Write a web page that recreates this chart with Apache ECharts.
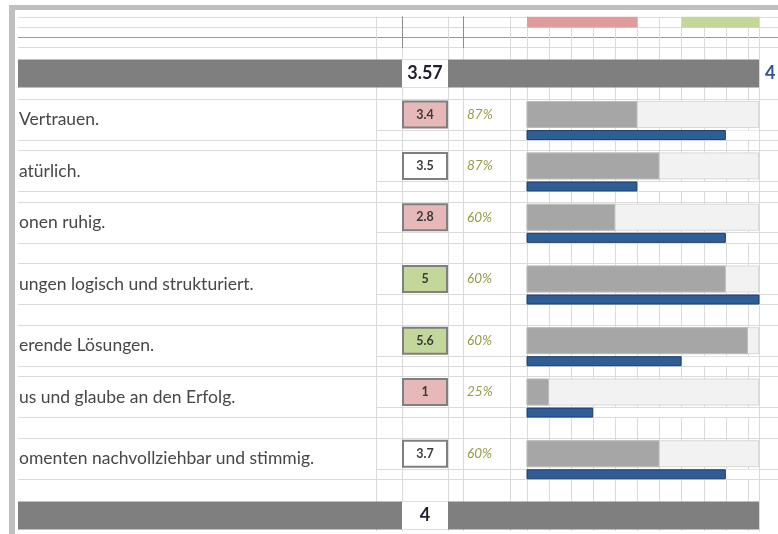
<!DOCTYPE html>
<html><head><meta charset="utf-8">
<script src="https://cdn.jsdelivr.net/npm/echarts@6/dist/echarts.min.js"></script>
<style>html,body{margin:0;padding:0;background:#fff}#c{width:778px;height:534px}</style>
</head><body><div id="c"></div>
<script>
// ---------------- data ----------------
const statements = ['Vertrauen.', 'atürlich.', 'onen ruhig.', 'ungen logisch und strukturiert.', 'erende Lösungen.', 'us und glaube an den Erfolg.', 'omenten nachvollziehbar und stimmig.'];
const scores = [3.4, 3.5, 2.8, 5, 5.6, 1, 3.7];
const shares = [87, 87, 60, 60, 60, 25, 60];
const grayBars = [3, 3.5, 2.5, 5, 5.5, 1, 3.5];
const blueBars = [5, 3, 5, 6, 4, 2, 5];
const totals = ['3.57', '4'];
const sideTotal = '4';
const redBelow = 3.5, greenFrom = 4.5;
const legendRedTo = 3, legendGreenFrom = 4;
const scaleMin = 0.5, scaleMax = 5.75, scaleStep = 0.5;

// ---------------- spreadsheet row layout ----------------
const gapRows = [1, 1, 2, 2, 1, 2, 2];
const rows = [];
for (let i = 0; i < 4; i++) rows.push({kind: 'head', k: i});
for (let i = 0; i < 3; i++) rows.push({kind: 'band', total: i === 1 ? 0 : -1});
rows.push({kind: 'pad'});
statements.forEach((s, i) => {
  rows.push({kind: 'boxTop'}); rows.push({kind: 'box', item: i}); rows.push({kind: 'boxEnd'}); rows.push({kind: 'blue', item: i});
  for (let g = 0; g < gapRows[i]; g++) rows.push({kind: g === 0 ? 'gap' : 'gap2'});
});
for (let i = 0; i < 3; i++) rows.push({kind: 'band', total: i === 1 ? 1 : -1});
const slots = rows.map((r, i) => String(i));

const TOP = 16.85, H = 513.95, U = H / rows.length;
const LIGHT = '#dadada', DARK = '#9a9a9a';
const FONT = 'Lato, "Open Sans", sans-serif';

const textLine = r => r.kind === 'head' || r.kind === 'boxTop' || r.kind === 'gap';
const rightLine = r => textLine(r) || r.kind === 'blue';
function lineIntervals(pred) { return (idx) => pred(rows[idx]); }
function lineColors(pred) {
  const c = [];
  rows.forEach((r, i) => { if (pred(r)) c.push(r.kind === 'head' && r.k === 2 ? DARK : LIGHT); });
  c.push('rgba(0,0,0,0)');
  return c;
}
function slotOf(kind, i) { return rows.findIndex(r => r.kind === kind && r.item === i); }
function onSlots(kind, values) { const a = slots.map(() => '-'); values.forEach((v, i) => { a[slotOf(kind, i)] = v; }); return a; }
function onBands(values) { const a = slots.map(() => '-'); rows.forEach((r, i) => { if (r.kind === 'band' && r.total >= 0) a[i] = values[r.total]; }); return a; }

const grids = [], xAxes = [], yAxes = [];
function addGrid(left, width, top, height) {
  grids.push({left: left, width: width, top: top === undefined ? TOP : top, height: height === undefined ? H : height, containLabel: false, outerBoundsMode: 'none'});
  return grids.length - 1;
}
function addX(gi, extra) { xAxes.push(Object.assign({type: 'value', gridIndex: gi, min: 0, max: 1, show: false}, extra || {})); return xAxes.length - 1; }
function addY(gi, extra) {
  yAxes.push(Object.assign({type: 'category', gridIndex: gi, data: slots, inverse: true, show: false,
    axisTick: {show: false}, axisLabel: {show: false}, axisLine: {show: false}, splitLine: {show: false}}, extra || {}));
  return yAxes.length - 1;
}
const vline = {show: true, lineStyle: {color: LIGHT, width: 1}};

// text column
const gText = addGrid(18, 358); const xText = addX(gText);
addY(gText, {show: true, splitLine: {show: true, interval: lineIntervals(textLine), lineStyle: {color: lineColors(textLine), width: 1}},
  axisLabel: {show: true, inside: true, margin: 1, interval: 0,
    formatter: (v, idx) => rows[idx].kind === 'box' ? '{t|' + statements[rows[idx].item] + '}' : '',
    rich: {t: {color: '#474747', fontSize: 17.5, fontFamily: FONT, padding: [10, 0, 0, 0]}}}});
// right region horizontal lines
const gRight = addGrid(376, 402); addX(gRight);
addY(gRight, {show: true, axisLine: vline, splitLine: {show: true, interval: lineIntervals(rightLine), lineStyle: {color: lineColors(rightLine), width: 1}}});
// value box column
const gBox = addGrid(402, 46); const xBox = addX(gBox);
const yBox = addY(gBox, {show: true, axisLine: vline});
const ySum = addY(gBox);
// narrow column
const gN1 = addGrid(448, 15); addX(gN1); addY(gN1, {show: true, axisLine: vline});
// percentage column
const gPct = addGrid(463, 47); addX(gPct);
addY(gPct, {show: true, axisLine: vline, axisLabel: {show: true, inside: true, margin: 4, interval: 0, color: '#979a45', fontSize: 13.5, fontStyle: 'italic', fontFamily: FONT,
  formatter: (v, idx) => rows[idx].kind === 'box' ? shares[rows[idx].item] + '%' : ''}});
// narrow column 2
const gN2 = addGrid(510, 17); addX(gN2); addY(gN2, {show: true, axisLine: vline});
// bar area
const gBars = addGrid(527, 232);
const xBars = addX(gBars, {min: scaleMin, max: scaleMax, interval: scaleStep, show: true, axisLabel: {show: false}, axisTick: {show: false}, axisLine: {show: false},
  splitLine: {show: true, lineStyle: {color: LIGHT, width: 1}}});
const yBg = addY(gBars), yGray = addY(gBars), yCover = addY(gBars), yBlue = addY(gBars), yLegend = addY(gBars);
// right edge
const gEdge = addGrid(759, 19); addX(gEdge);
addY(gEdge, {show: true, axisLine: vline, axisLabel: {show: true, inside: true, margin: 6, interval: 0, color: '#2f5597', fontSize: 18, fontWeight: 'bold', fontFamily: FONT,
  formatter: (v, idx) => (rows[idx].kind === 'band' && rows[idx].total === 0) ? sideTotal : ''}});
// full width for summary bands
const gFull = addGrid(18, 741); const xFull = addX(gFull); const yFull = addY(gFull);
// header dark column lines
const gHead = addGrid(402, 61, TOP, 3 * U); addX(gHead);
const darkLine = {show: true, lineStyle: {color: '#8c8c8c', width: 1}};
addY(gHead, {show: true, data: ['0', '1', '2'], position: 'left', axisLine: darkLine});
addY(gHead, {show: true, data: ['0', '1', '2'], position: 'right', axisLine: darkLine});

const base = {type: 'bar', silent: true, animation: false};
const all = v => statements.map(() => v);
const legendSlot = v => slots.map((s, i) => i === 0 ? v : '-');

const series = [
  Object.assign({}, base, {name: 'band', xAxisIndex: xFull, yAxisIndex: yFull, barWidth: 28, z: 3, clip: false,
    data: onBands([1, 1]), itemStyle: {color: '#7f7f7f'}}),
  Object.assign({}, base, {name: 'summary', xAxisIndex: xBox, yAxisIndex: ySum, barWidth: 28, z: 5, clip: false,
    data: onBands(totals.map(() => 1)), itemStyle: {color: '#ffffff'},
    label: {show: true, position: 'inside', color: '#1f1f2f', fontSize: 18, fontWeight: 'bold', fontFamily: FONT,
      formatter: p => totals[rows[p.dataIndex].total]}}),
  Object.assign({}, base, {name: 'score', xAxisIndex: xBox, yAxisIndex: yBox, barWidth: 28,
    data: onSlots('box', scores.map(s => ({value: 1, itemStyle: {color: s < redBelow ? '#e6b9b8' : (s >= greenFrom ? '#c4d79b' : '#ffffff')}}))),
    itemStyle: {borderColor: '#7f7f7f', borderWidth: 2},
    label: {show: true, position: 'inside', color: '#3a3a3a', fontSize: 12.5, fontWeight: 'bold', fontFamily: FONT,
      formatter: p => String(scores[rows[p.dataIndex].item])}}),
  Object.assign({}, base, {name: 'bg', xAxisIndex: xBars, yAxisIndex: yBg, barWidth: 27,
    data: onSlots('box', all(scaleMax)), itemStyle: {color: '#f2f2f2', borderColor: '#d9d9d9', borderWidth: 1}}),
  Object.assign({}, base, {name: 'gray', xAxisIndex: xBars, yAxisIndex: yGray, barWidth: 27,
    data: onSlots('box', grayBars), itemStyle: {color: '#a6a6a6', borderColor: '#bcbcbc', borderWidth: 1}}),
  Object.assign({}, base, {name: 'cover', xAxisIndex: xBars, yAxisIndex: yCover, barWidth: 9,
    data: onSlots('blue', all(scaleMax)), itemStyle: {color: '#ffffff'}}),
  Object.assign({}, base, {name: 'blue', xAxisIndex: xBars, yAxisIndex: yBlue, barWidth: 10,
    data: onSlots('blue', blueBars), itemStyle: {color: '#2f5d95', borderColor: '#1d3d6b', borderWidth: 1}}),
  Object.assign({}, base, {name: 'legRed', xAxisIndex: xBars, yAxisIndex: yLegend, barWidth: 11, stack: 'leg',
    data: legendSlot(legendRedTo), itemStyle: {color: '#e09b9b'}}),
  Object.assign({}, base, {name: 'legGap', xAxisIndex: xBars, yAxisIndex: yLegend, barWidth: 11, stack: 'leg',
    data: legendSlot(legendGreenFrom - legendRedTo), itemStyle: {color: 'rgba(0,0,0,0)'}}),
  Object.assign({}, base, {name: 'legGreen', xAxisIndex: xBars, yAxisIndex: yLegend, barWidth: 11, stack: 'leg',
    data: legendSlot(scaleMax - legendGreenFrom), itemStyle: {color: '#c4d79b'}})
];

const chart = echarts.init(document.getElementById('c'), null, {renderer: 'canvas'});
chart.setOption({
  animation: false,
  backgroundColor: '#ffffff',
  grid: grids, xAxis: xAxes, yAxis: yAxes, series: series,
  graphic: [
    {type: 'rect', shape: {x: 9, y: 5, width: 769, height: 5}, style: {fill: '#bfbfbf'}, z: 100, silent: true},
    {type: 'rect', shape: {x: 9, y: 5, width: 6, height: 529}, style: {fill: '#bfbfbf'}, z: 100, silent: true}
  ]
});
</script></body></html>
